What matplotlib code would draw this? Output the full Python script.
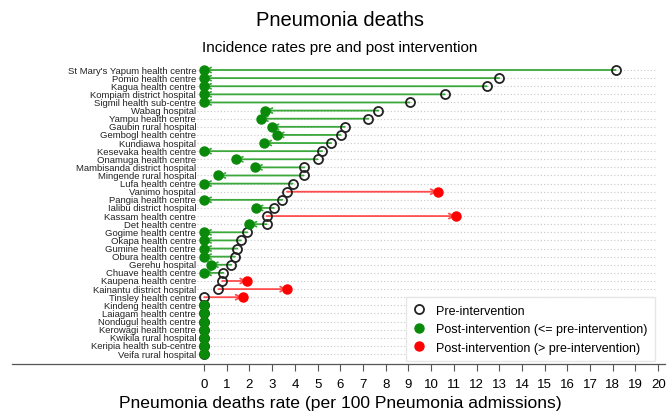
import matplotlib.pyplot as plt
from matplotlib.lines import Line2D

plt.rcParams['font.family'] = ['Liberation Sans', 'DejaVu Sans']

facilities = [
    "St Mary's Yapum health centre", "Pomio health centre", "Kagua health centre",
    "Kompiam district hospital", "Sigmil health sub-centre", "Wabag hospital",
    "Yampu health centre", "Gaubin rural hospital", "Gembogl health centre",
    "Kundiawa hospital", "Kesevaka health centre", "Onamuga health centre",
    "Mambisanda district hospital", "Mingende rural hospital", "Lufa health centre",
    "Vanimo hospital", "Pangia health centre", "Ialibu district hospital",
    "Kassam health centre", "Det health centre", "Gogime health centre",
    "Okapa health centre", "Gumine health centre", "Obura health centre",
    "Gerehu hospital", "Chuave health centre", "Kaupena health centre",
    "Kainantu district hospital", "Tinsley health centre", "Kindeng health centre",
    "Laiagam health centre", "Nondugul health centre", "Kerowagi health centre",
    "Kwikila rural hospital", "Keripia health sub-centre", "Veifa rural hospital",
]
pre = [18.13, 13.0, 12.45, 10.6, 9.05, 7.68, 7.24, 6.2, 6.01, 5.6,
       5.2, 5.0, 4.42, 4.38, 3.9, 3.65, 3.45, 3.07, 2.75, 2.75,
       1.9, 1.62, 1.46, 1.36, 1.2, 0.85, 0.8, 0.63, 0.0, 0.0,
       0.0, 0.0, 0.0, 0.0, 0.0, 0.0]
post = [0.0, 0.0, 0.0, 0.0, 0.0, 2.7, 2.5, 2.97, 3.2, 2.65,
        0.0, 1.4, 2.24, 0.63, 0.0, 10.29, 0.0, 2.27, 11.09, 2.0,
        0.0, 0.0, 0.0, 0.0, 0.3, 0.0, 1.9, 3.66, 1.7, 0.0,
        0.0, 0.0, 0.0, 0.0, 0.0, 0.0]
xticks = list(range(0, 21))

dot_green, line_green = '#0a8a0a', '#3aa83a'
dot_red, line_red = '#ff0000', '#ff4d4d'

fig = plt.figure(figsize=(6.71, 4.14), dpi=100)
ax = fig.add_axes([12 / 671, 1 - 365 / 414, (665 - 12) / 671, (365 - 62) / 414])

n = len(facilities)
ax.set_xlim(-8.46, 20.3)
ax.set_ylim(36.23, -1.11)

for i in range(n):
    ax.hlines(i, -0.3, 19.95, colors='#c8c8c8', linestyles=(0, (1, 2)), lw=0.8, zorder=1)
    ax.text(-0.35, i, facilities[i], ha='right', va='center', fontsize=6.8, color='#222222')
    up = post[i] > pre[i]
    if pre[i] != post[i]:
        ax.annotate('', xy=(post[i], i), xytext=(pre[i], i),
                    arrowprops=dict(arrowstyle='->', color=line_red if up else line_green,
                                    lw=1.3, shrinkA=0, shrinkB=0, mutation_scale=9),
                    zorder=2)
    ax.plot(pre[i], i, 'o', ms=6.5, mfc='none', mec='#222222', mew=1.3, zorder=3)
    ax.plot(post[i], i, 'o', ms=6.5, color=dot_red if up else dot_green, zorder=4)

ax.set_xticks(xticks)
ax.tick_params(axis='x', length=5, width=0.8, labelsize=9.5, color='#555555', pad=5)
ax.set_yticks([])
for s in ['top', 'right', 'left']:
    ax.spines[s].set_visible(False)
ax.spines['bottom'].set_color('#555555')
ax.spines['bottom'].set_linewidth(0.9)

fig.text(340 / 671, 1 - 404 / 414, 'Pneumonia deaths rate (per 100 Pneumonia admissions)',
         ha='center', va='center', fontsize=12.6)

fig.text(340 / 671, 1 - 20 / 414, 'Pneumonia deaths', ha='center', va='center', fontsize=14.5)
fig.text(340 / 671, 1 - 48 / 414, 'Incidence rates pre and post intervention', ha='center',
         va='center', fontsize=11)

handles = [
    Line2D([], [], ls='none', marker='o', ms=6.5, mfc='none', mec='#222222', mew=1.3),
    Line2D([], [], ls='none', marker='o', ms=6.5, color=dot_green),
    Line2D([], [], ls='none', marker='o', ms=6.5, color=dot_red),
]
labels = ['Pre-intervention', 'Post-intervention (<= pre-intervention)',
          'Post-intervention (> pre-intervention)']
leg = ax.legend(handles, labels, loc='upper left', bbox_to_anchor=(400 / 671, 1 - 292 / 414),
                bbox_transform=fig.transFigure, fontsize=9, frameon=True, fancybox=False,
                framealpha=1, edgecolor='#e6e6e6', handletextpad=0.9, labelspacing=0.52,
                borderpad=0.6, handlelength=0.9)
leg.set_zorder(10)

fig.savefig('out.png', dpi=100)
